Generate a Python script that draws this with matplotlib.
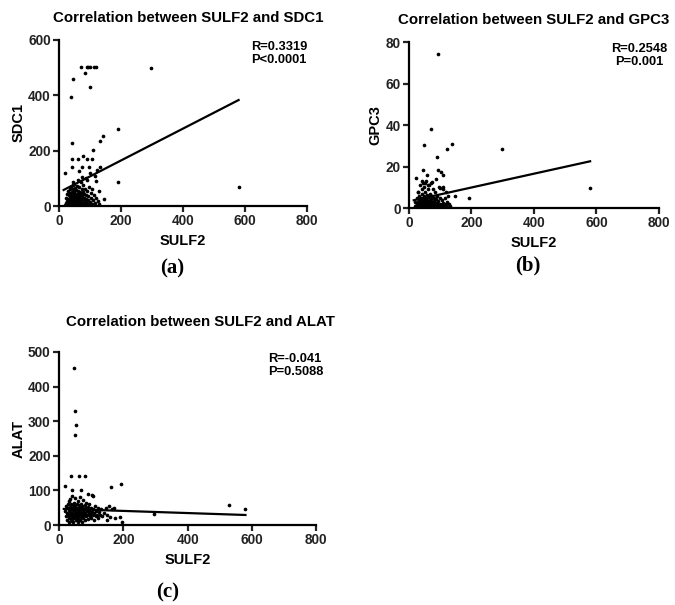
import numpy as np
import matplotlib.pyplot as plt

plt.rcParams['font.family'] = ['Liberation Sans', 'DejaVu Sans']
plt.rcParams['font.weight'] = 'bold'

# ---- panel (a): SULF2 vs SDC1
sulf2_a = [20, 22, 24, 25, 26, 27, 28, 29, 30, 30, 31, 32, 33, 34, 35, 35, 36, 37, 38, 38,
           39, 40, 40, 41, 42, 42, 43, 44, 44, 45, 45, 46, 47, 47, 48, 48, 49, 50, 50, 51,
           52, 52, 53, 54, 54, 55, 56, 56, 57, 58, 58, 59, 60, 60, 61, 62, 62, 63, 64, 65,
           65, 66, 67, 68, 68, 69, 70, 70, 71, 72, 73, 74, 75, 75, 76, 78, 78, 80, 80, 82,
           83, 85, 85, 87, 88, 90, 90, 92, 94, 95, 96, 98, 100, 102, 104, 106, 108, 110, 112, 115,
           118, 120, 125, 128, 130, 100, 88, 75, 60, 45,
           19, 43, 73, 97, 134, 62, 78, 91, 105, 43, 109, 43, 134, 141, 190, 191, 146, 123, 115, 64,
           71, 89, 95, 100, 114, 121, 297, 84, 45, 99, 38, 580]
sdc1 = [5, 12, 30, 8, 45, 18, 2, 25, 55, 10, 38, 4, 20, 60, 14, 33, 3, 48, 22, 8,
        70, 15, 40, 28, 5, 52, 18, 35, 75, 10, 62, 25, 2, 44, 30, 15, 80, 6, 50, 22,
        38, 12, 65, 28, 4, 45, 18, 58, 32, 8, 72, 25, 40, 14, 55, 3, 30, 20, 48, 10,
        68, 36, 24, 5, 52, 16, 42, 85, 28, 8, 60, 20, 35, 2, 50, 12, 75, 30, 6, 45,
        18, 62, 3, 25, 40, 10, 95, 55, 20, 35, 5, 70, 15, 28, 48, 8, 60, 22, 40, 12,
        90, 30, 18, 55, 8, 120, 100, 105, 95, 88,
        120, 142, 142, 142, 142, 170, 181, 170, 170, 170, 201, 226, 235, 253, 277, 88, 25, 130, 110, 125,
        501, 501, 501, 501, 501, 501, 500, 480, 459, 431, 395, 70]
fit_x_a = [15, 580]
fit_y_a = [58, 383]

# ---- panel (b): SULF2 vs GPC3
sulf2_b = [18, 20, 22, 24, 25, 27, 28, 29, 30, 31, 32, 33, 34, 35, 36, 37, 38, 39, 40, 40,
           41, 42, 43, 44, 45, 45, 46, 47, 48, 49, 50, 50, 51, 52, 53, 54, 55, 55, 56, 57,
           58, 59, 60, 60, 61, 62, 63, 64, 65, 65, 66, 67, 68, 69, 70, 70, 71, 72, 73, 74,
           75, 76, 77, 78, 79, 80, 81, 82, 83, 85, 86, 87, 88, 90, 91, 92, 94, 95, 96, 98,
           100, 102, 104, 106, 108, 110, 112, 115, 118, 120, 122, 125, 128, 130,
           46, 22, 94, 101, 108, 89, 121, 137, 47, 70, 94, 297, 193, 147, 580,
           60, 52, 75, 85, 110, 100, 40, 56, 30, 118]
gpc3 = [1, 3, 0.5, 2, 5, 1.5, 8, 3, 0.3, 4, 2, 6, 1, 11, 3, 0.8, 5, 2.5, 9, 1,
        4, 0.4, 7, 2, 12, 3.5, 1, 6, 2.8, 10, 0.6, 4.5, 2, 8, 1.2, 5, 3, 13, 0.3, 6.5,
        2, 4, 9, 1, 3, 0.7, 5.5, 2.4, 11, 1.5, 4, 0.5, 7, 2.8, 1, 12, 4.5, 2, 0.4, 6,
        3, 1.2, 9, 2.2, 5, 0.8, 3.5, 1.6, 8, 2.5, 0.5, 4.2, 1.8, 6, 2.2, 0.6, 3.5, 10, 1.4, 5,
        2, 0.8, 4, 1.5, 9, 2.6, 0.9, 4.8, 1.8, 3, 0.6, 6, 2, 1,
        18.5, 14.3, 18.5, 17.2, 15.9, 24.6, 28.4, 31, 30.7, 38.4, 74.2, 28.4, 5, 5.9, 9.5,
        11, 12, 12.5, 14, 10, 9.5, 13, 16, 8, 8]
fit_x_b = [15, 580]
fit_y_b = [3.8, 22.6]

# ---- panel (c): SULF2 vs ALAT
sulf2_c = [20, 22, 23, 25, 26, 27, 28, 29, 30, 30, 31, 32, 33, 34, 35, 35, 36, 37, 38, 38,
           39, 40, 40, 41, 42, 43, 44, 44, 45, 46, 47, 47, 48, 49, 50, 50, 51, 52, 53, 54,
           55, 55, 56, 57, 58, 58, 59, 60, 60, 61, 62, 63, 64, 64, 65, 66, 67, 68, 68, 69,
           70, 71, 72, 73, 74, 75, 75, 76, 78, 79, 80, 81, 82, 83, 84, 85, 86, 88, 89, 90,
           91, 92, 94, 95, 96, 98, 100, 101, 102, 104, 105, 107, 108, 110, 112, 114, 115, 118, 120, 122,
           125, 128, 130, 135, 140, 145, 148,
           47, 50, 52, 49, 37, 62, 82, 19, 194, 162, 40, 297, 530, 580,
           155, 170, 160, 175, 190, 195, 150, 165, 70, 90, 105]
alat = [40, 25, 55, 35, 15, 48, 62, 30, 20, 70, 42, 8, 52, 28, 38, 75, 18, 45, 32, 60,
        12, 50, 25, 85, 36, 22, 58, 42, 10, 30, 65, 48, 20, 38, 55, 28, 78, 15, 44, 33,
        60, 22, 50, 38, 8, 70, 28, 45, 18, 58, 35, 25, 52, 82, 40, 14, 30, 62, 45, 22,
        35, 55, 28, 10, 48, 38, 72, 20, 42, 30, 58, 15, 36, 48, 25, 65, 40, 30, 52, 18,
        44, 35, 60, 25, 42, 32, 50, 20, 38, 88, 28, 45, 15, 35, 55, 25, 40, 30, 50, 20,
        38, 28, 45, 25, 35, 50, 30,
        453, 329, 289, 260, 142, 142, 142, 114, 118, 109, 101, 32, 57, 47,
        55, 50, 22, 20, 22, 10, 15, 45, 100, 90, 85]
fit_x_c = [15, 580]
fit_y_c = [46.5, 29]

panels = [
    dict(pos=[0.0874, 0.6595, 0.367, 0.2744], x=sulf2_a, y=sdc1, fx=fit_x_a, fy=fit_y_a,
         ylim=600, yticks=[0, 200, 400, 600], ylabel='SDC1',
         title='Correlation between SULF2 and SDC1', tx=0.52, tpad=13,
         stats='R=0.3319\nP<0.0001', sx=1.005, salign='left', tag='(a)', tagxy=(0.255, 0.557)),
    dict(pos=[0.606, 0.656, 0.370, 0.274], x=sulf2_b, y=gpc3, fx=fit_x_b, fy=fit_y_b,
         ylim=80, yticks=[0, 20, 40, 60, 80], ylabel='GPC3',
         title='Correlation between SULF2 and GPC3', tx=0.5, tpad=13,
         stats='R=0.2548\nP=0.001', sx=1.035, salign='center', tag='(b)', tagxy=(0.782, 0.562)),
    dict(pos=[0.0874, 0.1322, 0.381, 0.286], x=sulf2_c, y=alat, fx=fit_x_c, fy=fit_y_c,
         ylim=500, yticks=[0, 100, 200, 300, 400, 500], ylabel='ALAT',
         title='Correlation between SULF2 and ALAT', tx=0.55, tpad=19,
         stats='R=-0.041\nP=0.5088', sx=1.03, salign='left', tag='(c)', tagxy=(0.248, 0.020)),
]

fig = plt.figure(figsize=(6.75, 6.05), dpi=100)

for p in panels:
    ax = fig.add_axes(p['pos'])
    ax.scatter(p['x'], p['y'], s=7, color='black', linewidths=0, zorder=3)
    ax.plot(p['fx'], p['fy'], color='black', lw=1.6, zorder=2)
    ax.set_xlim(0, 800)
    ax.set_ylim(0, p['ylim'])
    ax.set_xticks([0, 200, 400, 600, 800])
    ax.set_yticks(p['yticks'])
    for s in ['top', 'right']:
        ax.spines[s].set_visible(False)
    for s in ['left', 'bottom']:
        ax.spines[s].set_linewidth(1.6)
    ax.tick_params(width=1.6, length=4, labelsize=9.8, colors='#222222', pad=2)
    ax.set_xlabel('SULF2', fontsize=10.5, fontweight='bold', labelpad=4)
    ax.set_ylabel(p['ylabel'], fontsize=10.5, fontweight='bold', labelpad=2)
    ax.set_title(p['title'], fontsize=10.8, fontweight='bold', pad=p['tpad'], x=p['tx'])
    ax.text(p['sx'], 0.995, p['stats'], transform=ax.transAxes, ha='right', va='top',
            fontsize=9.3, fontweight='bold', multialignment=p['salign'], linespacing=1.1)
    fig.text(p['tagxy'][0], p['tagxy'][1], p['tag'], ha='center', va='center',
             fontsize=15, fontweight='bold', family='Liberation Serif')

fig.savefig('out.png', dpi=100)
